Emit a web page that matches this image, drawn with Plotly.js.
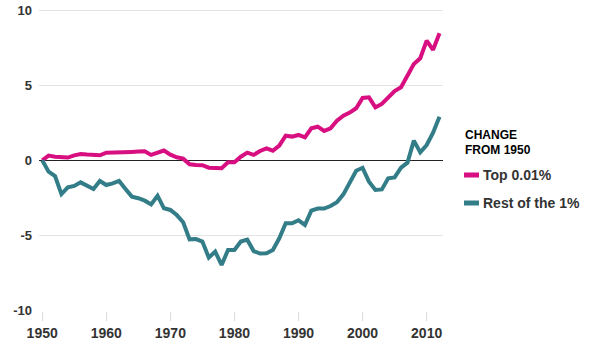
<!DOCTYPE html>
<html>
<head>
<meta charset="utf-8">
<script src="https://cdn.plot.ly/plotly-3.0.1.min.js"></script>
<style>html,body{margin:0;padding:0;background:#fff;}#chart{width:600px;height:351px;}</style>
</head>
<body>
<div id="chart"></div>
<script>
const years = [];
for (let y = 1950; y <= 2012; y++) years.push(y);

const top001 = [
  0, 0.31, 0.24, 0.18, 0.18, 0.33, 0.42, 0.38, 0.33, 0.33,
  0.51, 0.51, 0.51, 0.53, 0.56, 0.58, 0.60, 0.36, 0.53, 0.65,
  0.38, 0.20, 0.11, -0.27, -0.31, -0.33, -0.49, -0.51, -0.53, -0.13,
  -0.13, 0.24, 0.51, 0.36, 0.62, 0.80, 0.64, 0.98, 1.64, 1.58,
  1.69, 1.53, 2.13, 2.24, 1.96, 2.13, 2.64, 2.98, 3.18, 3.47,
  4.16, 4.20, 3.53, 3.76, 4.20, 4.62, 4.87, 5.69, 6.42, 6.80,
  7.98, 7.36, 8.47
];

const restOf1 = [
  0, -0.76, -1.05, -2.25, -1.80, -1.71, -1.47, -1.69, -1.91, -1.38,
  -1.65, -1.54, -1.38, -1.91, -2.42, -2.53, -2.69, -2.94, -2.36, -3.20,
  -3.31, -3.65, -4.13, -5.27, -5.25, -5.42, -6.49, -6.09, -6.98, -5.98,
  -5.98, -5.42, -5.29, -6.05, -6.22, -6.20, -5.98, -5.20, -4.20, -4.20,
  -4.00, -4.31, -3.36, -3.22, -3.22, -3.05, -2.80, -2.27, -1.45, -0.70,
  -0.50, -1.42, -1.98, -1.94, -1.20, -1.14, -0.49, -0.16, 1.31, 0.53,
  1.02, 1.84, 2.90
];

const seriesNames = ['Top 0.01%', 'Rest of the 1%'];
const legendTitle = ['CHANGE', 'FROM 1950'];
const xTicks = [1950, 1960, 1970, 1980, 1990, 2000, 2010];
const yTicks = [-10, -5, 0, 5, 10];

const colors = ['#d70f80', '#327d87'];
const W = 600, H = 351;
const M = {l: 39, r: 157, t: 9, b: 40};
const pw = W - M.l - M.r, ph = H - M.t - M.b;
const px = x => (x - M.l) / pw;
const py = y => (H - M.b - y) / ph;

const font = 'Liberation Sans, Arial, sans-serif';

const traces = [
  {x: years, y: top001, name: seriesNames[0], mode: 'lines',
   line: {color: colors[0], width: 4}, hoverinfo: 'x+y'},
  {x: years, y: restOf1, name: seriesNames[1], mode: 'lines',
   line: {color: colors[1], width: 4}, hoverinfo: 'x+y'}
];

const annotations = [
  {text: '<b>' + legendTitle[0] + '</b>', x: px(463), y: py(135), xref: 'paper', yref: 'paper',
   xanchor: 'left', yanchor: 'middle', showarrow: false, font: {family: font, size: 12, color: '#000'}},
  {text: '<b>' + legendTitle[1] + '</b>', x: px(463), y: py(149.5), xref: 'paper', yref: 'paper',
   xanchor: 'left', yanchor: 'middle', showarrow: false, font: {family: font, size: 12, color: '#000'}},
  {text: '<b>' + seriesNames[0] + '</b>', x: px(481), y: py(175), xref: 'paper', yref: 'paper',
   xanchor: 'left', yanchor: 'middle', showarrow: false, font: {family: font, size: 14, color: '#333'}},
  {text: '<b>' + seriesNames[1] + '</b>', x: px(481), y: py(203), xref: 'paper', yref: 'paper',
   xanchor: 'left', yanchor: 'middle', showarrow: false, font: {family: font, size: 14, color: '#333'}}
];

const shapes = [
  {type: 'line', xref: 'paper', yref: 'paper', x0: px(464), x1: px(479), y0: py(175), y1: py(175),
   line: {color: colors[0], width: 5}},
  {type: 'line', xref: 'paper', yref: 'paper', x0: px(464), x1: px(479), y0: py(203), y1: py(203),
   line: {color: colors[1], width: 5}}
];

const layout = {
  width: W, height: H,
  margin: M,
  paper_bgcolor: '#fff', plot_bgcolor: '#fff',
  showlegend: false,
  font: {family: font, color: '#333'},
  xaxis: {
    range: [1949.5, 2012.55],
    tickmode: 'array', tickvals: xTicks, ticktext: xTicks.map(v => '<b>' + v + '</b>'),
    showgrid: false, zeroline: false, showline: false,
    ticks: 'outside', ticklen: 9, tickcolor: '#dddddd', tickwidth: 1,
    tickfont: {family: font, size: 14, color: '#333'}
  },
  yaxis: {
    range: [-10 - 0.7 / 15, 10 + 1.3 / 15],
    tickmode: 'array', tickvals: yTicks, ticktext: yTicks.map(v => '<b>' + v + '</b>'),
    showgrid: true, gridcolor: '#e3e3e3', gridwidth: 1,
    zeroline: true, zerolinecolor: '#222', zerolinewidth: 1,
    showline: false, ticks: '', ticklabelstandoff: 6,
    tickfont: {family: font, size: 13, color: '#333'}
  },
  annotations: annotations,
  shapes: shapes
};

Plotly.newPlot('chart', traces, layout, {displayModeBar: false, staticPlot: true});
</script>
</body>
</html>
